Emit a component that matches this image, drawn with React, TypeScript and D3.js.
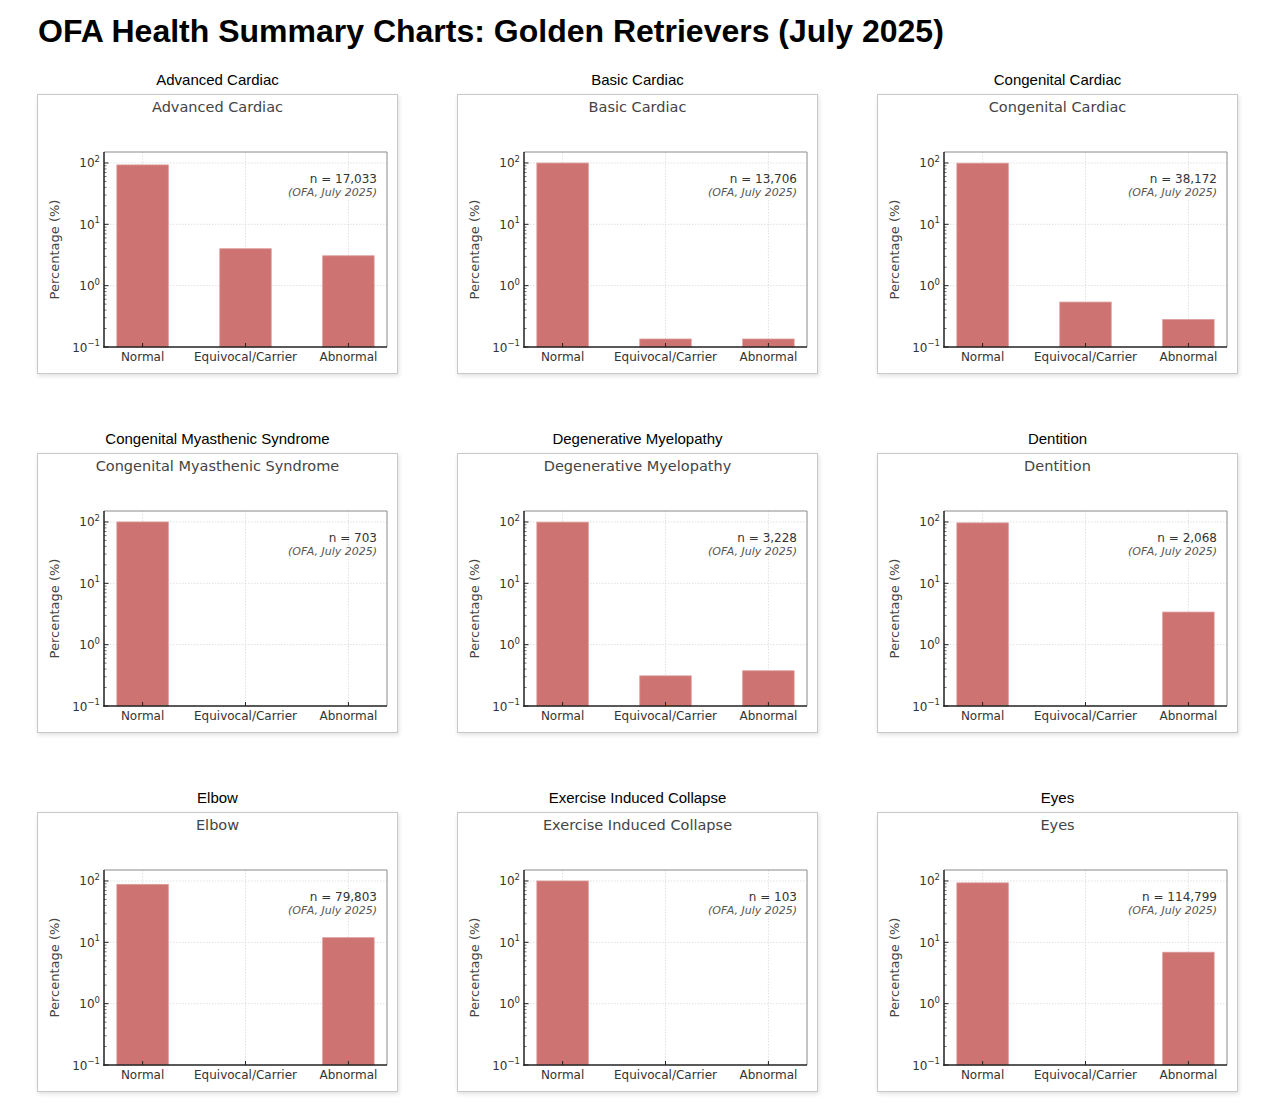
import * as d3 from 'd3';
import { type FC, useEffect, useRef } from 'react';

const pageTitle = 'OFA Health Summary Charts: Golden Retrievers (July 2025)';
const statusLabels = ['Normal', 'Equivocal/Carrier', 'Abnormal'];
const panelTitles = [
  'Advanced Cardiac',
  'Basic Cardiac',
  'Congenital Cardiac',
  'Congenital Myasthenic Syndrome',
  'Degenerative Myelopathy',
  'Dentition',
  'Elbow',
  'Exercise Induced Collapse',
  'Eyes',
];
const sampleSizes = [17033, 13706, 38172, 703, 3228, 2068, 79803, 103, 114799];
const normalPct = [92.9, 99.73, 99.18, 100, 99.31, 96.6, 88.1, 100, 93.1];
const equivocalPct = [4.0, 0.135, 0.54, 0, 0.31, 0, 0, 0, 0];
const abnormalPct = [3.07, 0.135, 0.28, 0, 0.375, 3.4, 11.9, 0, 6.9];
const yTickValues = [0.1, 1, 10, 100];
const sourceNote = '(OFA, July 2025)';

const BOX_W = 361;
const BOX_H = 280;
const COL_STEP = 420;
const ROW_STEP = 359;
const plot = { left: 67, right: 350, top: 58, bottom: 253 };
const chartFont = '"DejaVu Sans", Verdana, sans-serif';
const pageFont = '"Liberation Sans", Arial, Helvetica, sans-serif';

interface PanelProps {
  index: number;
}

const Panel: FC<PanelProps> = ({ index }) => {
  const gRef = useRef<SVGGElement>(null);

  useEffect(() => {
    if (!gRef.current) {
      return;
    }
    const g = d3.select(gRef.current);
    g.selectAll('*').remove();

    const values = [normalPct[index], equivocalPct[index], abnormalPct[index]];

    const x = d3
      .scaleLinear()
      .domain([-0.375, 2.375])
      .range([plot.left, plot.right]);
    const y = d3
      .scaleLog()
      .domain([0.1, 151])
      .range([plot.bottom, plot.top]);
    const barW = x(0.5) - x(0);

    // frame box
    g.append('rect')
      .attr('x', 0.5)
      .attr('y', 0.5)
      .attr('width', BOX_W - 1)
      .attr('height', BOX_H - 1)
      .attr('fill', '#fff')
      .attr('stroke', '#c8c8c8')
      .attr('filter', 'url(#boxShadow)');

    // inner title
    g.append('text')
      .attr('x', BOX_W / 2)
      .attr('y', 17.5)
      .attr('text-anchor', 'middle')
      .attr('font-family', chartFont)
      .attr('font-size', 14.5)
      .attr('fill', '#444')
      .text(panelTitles[index]);

    // grid
    g.selectAll('line.hgrid')
      .data(yTickValues.slice(1))
      .join('line')
      .attr('class', 'hgrid')
      .attr('x1', plot.left)
      .attr('x2', plot.right)
      .attr('y1', (d) => y(d))
      .attr('y2', (d) => y(d))
      .attr('stroke', '#d8d8d8')
      .attr('stroke-width', 0.8)
      .attr('stroke-dasharray', '1.5,1.5');

    g.selectAll('line.vgrid')
      .data(statusLabels)
      .join('line')
      .attr('class', 'vgrid')
      .attr('x1', (_, i) => x(i))
      .attr('x2', (_, i) => x(i))
      .attr('y1', plot.top)
      .attr('y2', plot.bottom)
      .attr('stroke', '#d8d8d8')
      .attr('stroke-width', 0.8)
      .attr('stroke-dasharray', '1.5,1.5');

    // bars
    const bars = values
      .map((v, i) => ({ v, i }))
      .filter((d) => d.v > 0);
    g.selectAll('rect.bar')
      .data(bars)
      .join('rect')
      .attr('class', 'bar')
      .attr('x', (d) => x(d.i) - barW / 2)
      .attr('y', (d) => y(d.v))
      .attr('width', barW)
      .attr('height', (d) => plot.bottom - y(d.v))
      .attr('fill', '#cd7371')
      .attr('stroke', '#dc9a99')
      .attr('stroke-width', 0.8);

    // spines
    g.append('line')
      .attr('x1', plot.left)
      .attr('x2', plot.right)
      .attr('y1', plot.top)
      .attr('y2', plot.top)
      .attr('stroke', '#8a8a8a')
      .attr('stroke-width', 1);
    g.append('line')
      .attr('x1', plot.right)
      .attr('x2', plot.right)
      .attr('y1', plot.top)
      .attr('y2', plot.bottom)
      .attr('stroke', '#8a8a8a')
      .attr('stroke-width', 1);

    // minor ticks on log axis
    const minor: number[] = [];
    [0.1, 1, 10, 100].forEach((dec) => {
      for (let k = 2; k <= 9; k++) {
        const v = dec * k;
        if (v < 151) minor.push(v);
      }
    });
    g.selectAll('line.minor')
      .data(minor)
      .join('line')
      .attr('class', 'minor')
      .attr('x1', plot.left)
      .attr('x2', plot.left + 2.5)
      .attr('y1', (d) => y(d))
      .attr('y2', (d) => y(d))
      .attr('stroke', '#333')
      .attr('stroke-width', 0.7);

    g.selectAll('line.major')
      .data(yTickValues)
      .join('line')
      .attr('class', 'major')
      .attr('x1', plot.left)
      .attr('x2', plot.left + 4.5)
      .attr('y1', (d) => y(d))
      .attr('y2', (d) => y(d))
      .attr('stroke', '#222')
      .attr('stroke-width', 1);

    g.selectAll('line.xtick')
      .data(statusLabels)
      .join('line')
      .attr('class', 'xtick')
      .attr('x1', (_, i) => x(i))
      .attr('x2', (_, i) => x(i))
      .attr('y1', plot.bottom)
      .attr('y2', plot.bottom - 4)
      .attr('stroke', '#222')
      .attr('stroke-width', 1);

    g.append('line')
      .attr('x1', plot.left)
      .attr('x2', plot.left)
      .attr('y1', plot.top)
      .attr('y2', plot.bottom + 0.75)
      .attr('stroke', '#222')
      .attr('stroke-width', 1.5);
    g.append('line')
      .attr('x1', plot.left - 0.75)
      .attr('x2', plot.right)
      .attr('y1', plot.bottom)
      .attr('y2', plot.bottom)
      .attr('stroke', '#222')
      .attr('stroke-width', 1.5);

    // y tick labels with superscript exponent
    const yLabels = g
      .selectAll('text.ylab')
      .data(yTickValues)
      .join('text')
      .attr('class', 'ylab')
      .attr('x', plot.left - 4)
      .attr('y', (d) => y(d) + 4.5)
      .attr('text-anchor', 'end')
      .attr('font-family', chartFont)
      .attr('font-size', 12)
      .attr('fill', '#333');
    yLabels.append('tspan').text('10');
    yLabels
      .append('tspan')
      .attr('dy', -5.5)
      .attr('font-size', 8.5)
      .text((d) => String(Math.round(Math.log10(d))).replace('-', '\u2212'));

    g.selectAll('text.xlab')
      .data(statusLabels)
      .join('text')
      .attr('class', 'xlab')
      .attr('x', (_, i) => x(i))
      .attr('y', plot.bottom + 14)
      .attr('text-anchor', 'middle')
      .attr('font-family', chartFont)
      .attr('font-size', 12)
      .attr('fill', '#333')
      .text((d) => d);

    g.append('text')
      .attr(
        'transform',
        `translate(22,${(plot.top + plot.bottom) / 2}) rotate(-90)`,
      )
      .attr('text-anchor', 'middle')
      .attr('font-family', chartFont)
      .attr('font-size', 13)
      .attr('fill', '#444')
      .text('Percentage (%)');

    // annotation
    g.append('text')
      .attr('x', plot.right - 10)
      .attr('y', 88.5)
      .attr('text-anchor', 'end')
      .attr('font-family', chartFont)
      .attr('font-size', 12)
      .attr('fill', '#333')
      .text(`n = ${d3.format(',')(sampleSizes[index])}`);
    g.append('text')
      .attr('x', plot.right - 10)
      .attr('y', 101.5)
      .attr('text-anchor', 'end')
      .attr('font-family', chartFont)
      .attr('font-size', 11)
      .attr('font-style', 'italic')
      .attr('fill', '#555')
      .text(sourceNote);
  }, [index]);

  const col = index % 3;
  const row = Math.floor(index / 3);
  const left = 29 + COL_STEP * col;
  const top = 86 + ROW_STEP * row;

  return (
    <g>
      <text
        x={left + BOX_W / 2}
        y={top - 9}
        textAnchor="middle"
        fontFamily={pageFont}
        fontSize={15}
        fill="#000"
      >
        {panelTitles[index]}
      </text>
      <g ref={gRef} transform={`translate(${left},${top})`} />
    </g>
  );
};

const App: FC = () => {
  return (
    <svg width={1248} height={1090} style={{ display: 'block' }}>
      <defs>
        <filter id="boxShadow" x="-5%" y="-5%" width="112%" height="115%">
          <feDropShadow
            dx="1"
            dy="2"
            stdDeviation="2"
            floodColor="#000"
            floodOpacity="0.12"
          />
        </filter>
      </defs>
      <text
        x={30}
        y={34}
        fontFamily={pageFont}
        fontSize={32}
        fontWeight="bold"
        fill="#000"
      >
        {pageTitle}
      </text>
      {panelTitles.map((t, i) => (
        <Panel key={t} index={i} />
      ))}
    </svg>
  );
};

export default App;
